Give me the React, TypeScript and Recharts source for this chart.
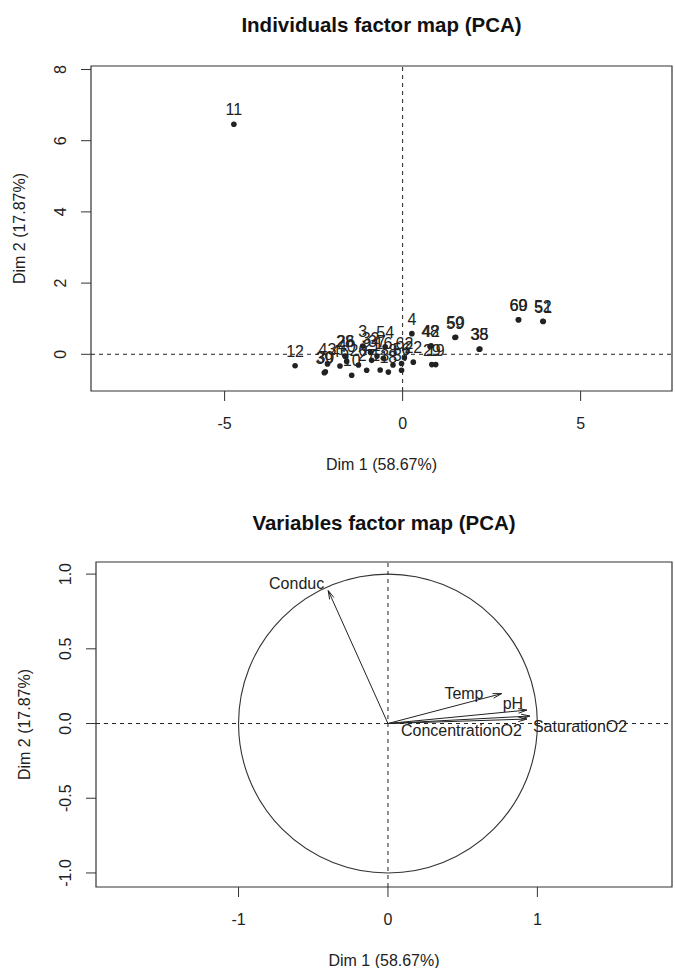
import React from "react";
import {
  ScatterChart,
  Scatter,
  XAxis,
  YAxis,
  ReferenceLine,
  ReferenceArea,
  Label,
} from "recharts";

const FONT = "'Liberation Sans', Arial, Helvetica, sans-serif";
const INK = "#222222";
const FRAME = "#333333";
const W = 675;

// individuals: coordinates on the first two dimensions
const indNames = [
  "11", "12", "43", "39", "30", "28", "26", "46", "40", "10",
  "3", "32", "37", "54", "27", "20", "21", "16", "13", "18",
  "8", "56", "57", "62", "22", "4", "48", "42", "29", "19",
  "59", "50", "38", "35", "69", "60", "52", "51",
];
const indDim1 = [
  -4.74, -3.02, -2.11, -2.2, -2.17, -1.62, -1.6, -1.76, -1.57, -1.43,
  -1.12, -0.9, -0.72, -0.49, -1.01, -1.24, -0.87, -0.54, -0.63, -0.4,
  -0.27, -0.03, -0.03, 0.05, 0.3, 0.26, 0.77, 0.8, 0.82, 0.93,
  1.47, 1.49, 2.15, 2.17, 3.25, 3.26, 3.94, 3.95,
];
const indDim2 = [
  6.46, -0.32, -0.27, -0.52, -0.49, -0.05, -0.06, -0.33, -0.2, -0.59,
  0.23, 0.05, -0.05, 0.21, -0.45, -0.3, -0.17, -0.11, -0.44, -0.5,
  -0.3, -0.26, -0.45, -0.1, -0.22, 0.58, 0.22, 0.24, -0.29, -0.29,
  0.47, 0.48, 0.14, 0.15, 0.97, 0.97, 0.93, 0.92,
];

// variables: correlations with the two dimensions
const varNames = ["Conduc", "Temp", "pH", "SaturationO2", "ConcentrationO2"];
const varDim1 = [-0.4, 0.76, 0.93, 0.95, 0.93];
const varDim2 = [0.89, 0.2, 0.09, 0.05, 0.03];

const indTicksX = [-5, 0, 5];
const indTicksY = [0, 2, 4, 6, 8];
const varTicksX = [-1, 0, 1];
const varTicksY = [-1, -0.5, 0, 0.5, 1];

const titleInd = "Individuals factor map (PCA)";
const titleVar = "Variables factor map (PCA)";
const dim1Title = "Dim 1 (58.67%)";
const dim2Title = "Dim 2 (17.87%)";

const indData = indNames.map((name, i) => ({ name, x: indDim1[i], y: indDim2[i] }));
const varData = varNames.map((name, i) => ({ name, x: varDim1[i], y: varDim2[i] }));

// where each variable name sits relative to its arrow tip
const varLabelPos: Record<string, { dx: number; dy: number; anchor: string }> = {
  Conduc: { dx: -4, dy: -7, anchor: "end" },
  Temp: { dx: -18, dy: 0, anchor: "end" },
  pH: { dx: -14, dy: -7, anchor: "middle" },
  SaturationO2: { dx: 3, dy: 10, anchor: "start" },
  ConcentrationO2: { dx: -5, dy: 11, anchor: "end" },
};

type Frame = { top: number; h: number; left: number; right: number; bottom: number };
const topFrame: Frame = { top: 0, h: 480, left: 91, right: 3, bottom: 89 };
const botFrame: Frame = { top: 480, h: 488, left: 96, right: 3, bottom: 81 };
const topMargin = { ind: 66, vars: 82 };

const txt = { fontFamily: FONT, fill: INK };

const XTick = (props: any) => {
  const { x, y, payload, fmt } = props;
  return (
    <text x={x} y={y + 22} textAnchor="middle" dominantBaseline="central" fontSize={16} {...txt}>
      {fmt(payload.value)}
    </text>
  );
};

const YTick = (props: any) => {
  const { x, y, payload, fmt } = props;
  const cx = x - 20;
  return (
    <text
      x={cx}
      y={y}
      textAnchor="middle"
      dominantBaseline="central"
      fontSize={16}
      transform={`rotate(-90 ${cx} ${y})`}
      {...txt}
    >
      {fmt(payload.value)}
    </text>
  );
};

const IndDot = (p: any) => (
  <g>
    <circle cx={p.cx} cy={p.cy} r={2.8} fill={INK} />
    <text x={p.cx} y={p.cy - 9} textAnchor="middle" fontSize={16} {...txt}>
      {p.payload.name}
    </text>
  </g>
);

const VarLabel = (p: any) => {
  const s = varLabelPos[p.payload.name];
  return (
    <text
      x={p.cx + s.dx}
      y={p.cy + s.dy}
      textAnchor={s.anchor as any}
      dominantBaseline="central"
      fontSize={16}
      {...txt}
    >
      {p.payload.name}
    </text>
  );
};

const Arrow = (p: any) => {
  const { x1, y1, x2, y2 } = p;
  const a = Math.atan2(y2 - y1, x2 - x1);
  const len = 9;
  const spread = Math.PI / 12;
  const l = [x2 - len * Math.cos(a - spread), y2 - len * Math.sin(a - spread)];
  const r = [x2 - len * Math.cos(a + spread), y2 - len * Math.sin(a + spread)];
  return (
    <g stroke={INK} strokeWidth={1} fill="none">
      <line x1={x1} y1={y1} x2={x2} y2={y2} />
      <polyline points={`${l[0]},${l[1]} ${x2},${y2} ${r[0]},${r[1]}`} />
    </g>
  );
};

const UnitCircle = (p: any) => (
  <ellipse
    cx={p.x + p.width / 2}
    cy={p.y + p.height / 2}
    rx={p.width / 2}
    ry={p.height / 2}
    fill="none"
    stroke={FRAME}
    strokeWidth={1.1}
  />
);

const axisTitles = (f: Frame, plotTop: number) => {
  const plotBottom = f.h - f.bottom;
  const cx = (f.left + (W - f.right)) / 2;
  const cy = (plotTop + plotBottom) / 2;
  return {
    x: () => (
      <text x={cx} y={plotBottom + 73} textAnchor="middle" dominantBaseline="central" fontSize={16} {...txt}>
        {dim1Title}
      </text>
    ),
    y: () => (
      <text
        x={f.left - 72}
        y={cy}
        textAnchor="middle"
        dominantBaseline="central"
        fontSize={16}
        transform={`rotate(-90 ${f.left - 72} ${cy})`}
        {...txt}
      >
        {dim2Title}
      </text>
    ),
  };
};

const Title = ({ text, f, y }: { text: string; f: Frame; y: number }) => (
  <div
    style={{
      position: "absolute",
      left: f.left,
      width: W - f.left - f.right,
      top: y - 13,
      height: 26,
      lineHeight: "26px",
      textAlign: "center",
      fontFamily: FONT,
      fontWeight: "bold",
      fontSize: 20.5,
      color: "#111",
    }}
  >
    {text}
  </div>
);

const indX: [number, number] = [-8.753, 7.567];
const indY: [number, number] = [-1.031, 8.098];
const varX: [number, number] = [-1.954, 1.901];
const varY: [number, number] = [-1.094, 1.081];

const intFmt = (v: number) => String(v);
const oneDec = (v: number) => v.toFixed(1);

const IndividualsMap = () => {
  const t = axisTitles(topFrame, topMargin.ind);
  return (
    <ScatterChart
      width={W}
      height={topFrame.h}
      margin={{ top: topMargin.ind, right: topFrame.right, bottom: 0, left: 0 }}
    >
      <XAxis
        type="number"
        dataKey="x"
        domain={indX}
        ticks={indTicksX}
        allowDataOverflow
        height={topFrame.bottom}
        axisLine={false}
        tickSize={10}
        tickMargin={0}
        tickLine={{ stroke: FRAME }}
        tick={<XTick fmt={intFmt} />}
      >
        <Label content={t.x} />
      </XAxis>
      <YAxis
        type="number"
        dataKey="y"
        domain={indY}
        ticks={indTicksY}
        allowDataOverflow
        width={topFrame.left}
        axisLine={false}
        tickSize={10}
        tickMargin={0}
        tickLine={{ stroke: FRAME }}
        tick={<YTick fmt={intFmt} />}
      >
        <Label content={t.y} />
      </YAxis>
      <ReferenceArea x1={indX[0]} x2={indX[1]} y1={indY[0]} y2={indY[1]} fill="none" stroke={FRAME} strokeWidth={1.2} fillOpacity={0} />
      <ReferenceLine x={0} stroke={INK} strokeDasharray="4 4" />
      <ReferenceLine y={0} stroke={INK} strokeDasharray="4 4" />
      <Scatter data={indData} shape={IndDot} isAnimationActive={false} />
    </ScatterChart>
  );
};

const VariablesMap = () => {
  const t = axisTitles(botFrame, topMargin.vars);
  return (
    <ScatterChart
      width={W}
      height={botFrame.h}
      margin={{ top: topMargin.vars, right: botFrame.right, bottom: 0, left: 0 }}
    >
      <XAxis
        type="number"
        dataKey="x"
        domain={varX}
        ticks={varTicksX}
        allowDataOverflow
        height={botFrame.bottom}
        axisLine={false}
        tickSize={10}
        tickMargin={0}
        tickLine={{ stroke: FRAME }}
        tick={<XTick fmt={intFmt} />}
      >
        <Label content={t.x} />
      </XAxis>
      <YAxis
        type="number"
        dataKey="y"
        domain={varY}
        ticks={varTicksY}
        allowDataOverflow
        width={botFrame.left}
        axisLine={false}
        tickSize={10}
        tickMargin={0}
        tickLine={{ stroke: FRAME }}
        tick={<YTick fmt={oneDec} />}
      >
        <Label content={t.y} />
      </YAxis>
      <ReferenceArea x1={varX[0]} x2={varX[1]} y1={varY[0]} y2={varY[1]} fill="none" stroke={FRAME} strokeWidth={1.2} fillOpacity={0} />
      <ReferenceArea x1={-1} x2={1} y1={-1} y2={1} shape={UnitCircle} />
      <ReferenceLine x={0} stroke={INK} strokeDasharray="4 4" />
      <ReferenceLine y={0} stroke={INK} strokeDasharray="4 4" />
      {varData.map((v) => (
        <ReferenceLine
          key={v.name}
          segment={[
            { x: 0, y: 0 },
            { x: v.x, y: v.y },
          ]}
          shape={Arrow}
        />
      ))}
      <Scatter data={varData} shape={VarLabel} isAnimationActive={false} />
    </ScatterChart>
  );
};

export default function App() {
  return (
    <div style={{ position: "absolute", left: 0, top: 0, width: W, height: 968, background: "#fff" }}>
      <Title text={titleInd} f={topFrame} y={25} />
      <Title text={titleVar} f={botFrame} y={523} />
      <div style={{ position: "absolute", left: 0, top: topFrame.top }}>
        <IndividualsMap />
      </div>
      <div style={{ position: "absolute", left: 0, top: botFrame.top }}>
        <VariablesMap />
      </div>
    </div>
  );
}
